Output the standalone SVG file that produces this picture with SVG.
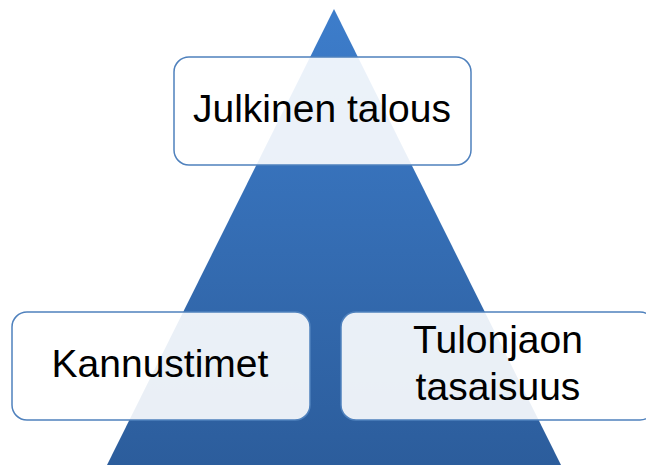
<svg xmlns="http://www.w3.org/2000/svg" width="646" height="465" viewBox="0 0 646 465">
<defs>
<linearGradient id="tri" x1="0" y1="9" x2="0" y2="465" gradientUnits="userSpaceOnUse">
<stop offset="0" stop-color="#3d7dcb"/>
<stop offset="1" stop-color="#2c5d9c"/>
</linearGradient>
</defs>
<style>
.box{fill:#ffffff;fill-opacity:0.9;stroke:#4f81bd;stroke-width:1.5}
.lbl{font-family:"Liberation Sans",Arial,sans-serif;font-size:39px;fill:#000000;text-anchor:middle}
</style>
<rect width="646" height="465" fill="#ffffff"/>
<g id="pyramid">
<polygon points="334,9 107,465 561,465" fill="url(#tri)"/>
</g>
<g id="connectors"></g>
<g id="julkinen-talous">
<rect class="box" x="174" y="57" width="297" height="108" rx="15"/>
<text class="lbl" x="322" y="122">Julkinen talous</text>
</g>
<g id="kannustimet">
<rect class="box" x="12" y="312" width="298" height="108" rx="15"/>
<text class="lbl" x="160" y="377">Kannustimet</text>
</g>
<g id="tulonjaon-tasaisuus">
<rect class="box" x="341" y="312" width="314" height="108" rx="15"/>
<text class="lbl" x="498" y="353">Tulonjaon</text>
<text class="lbl" x="498" y="400">tasaisuus</text>
</g>
</svg>
